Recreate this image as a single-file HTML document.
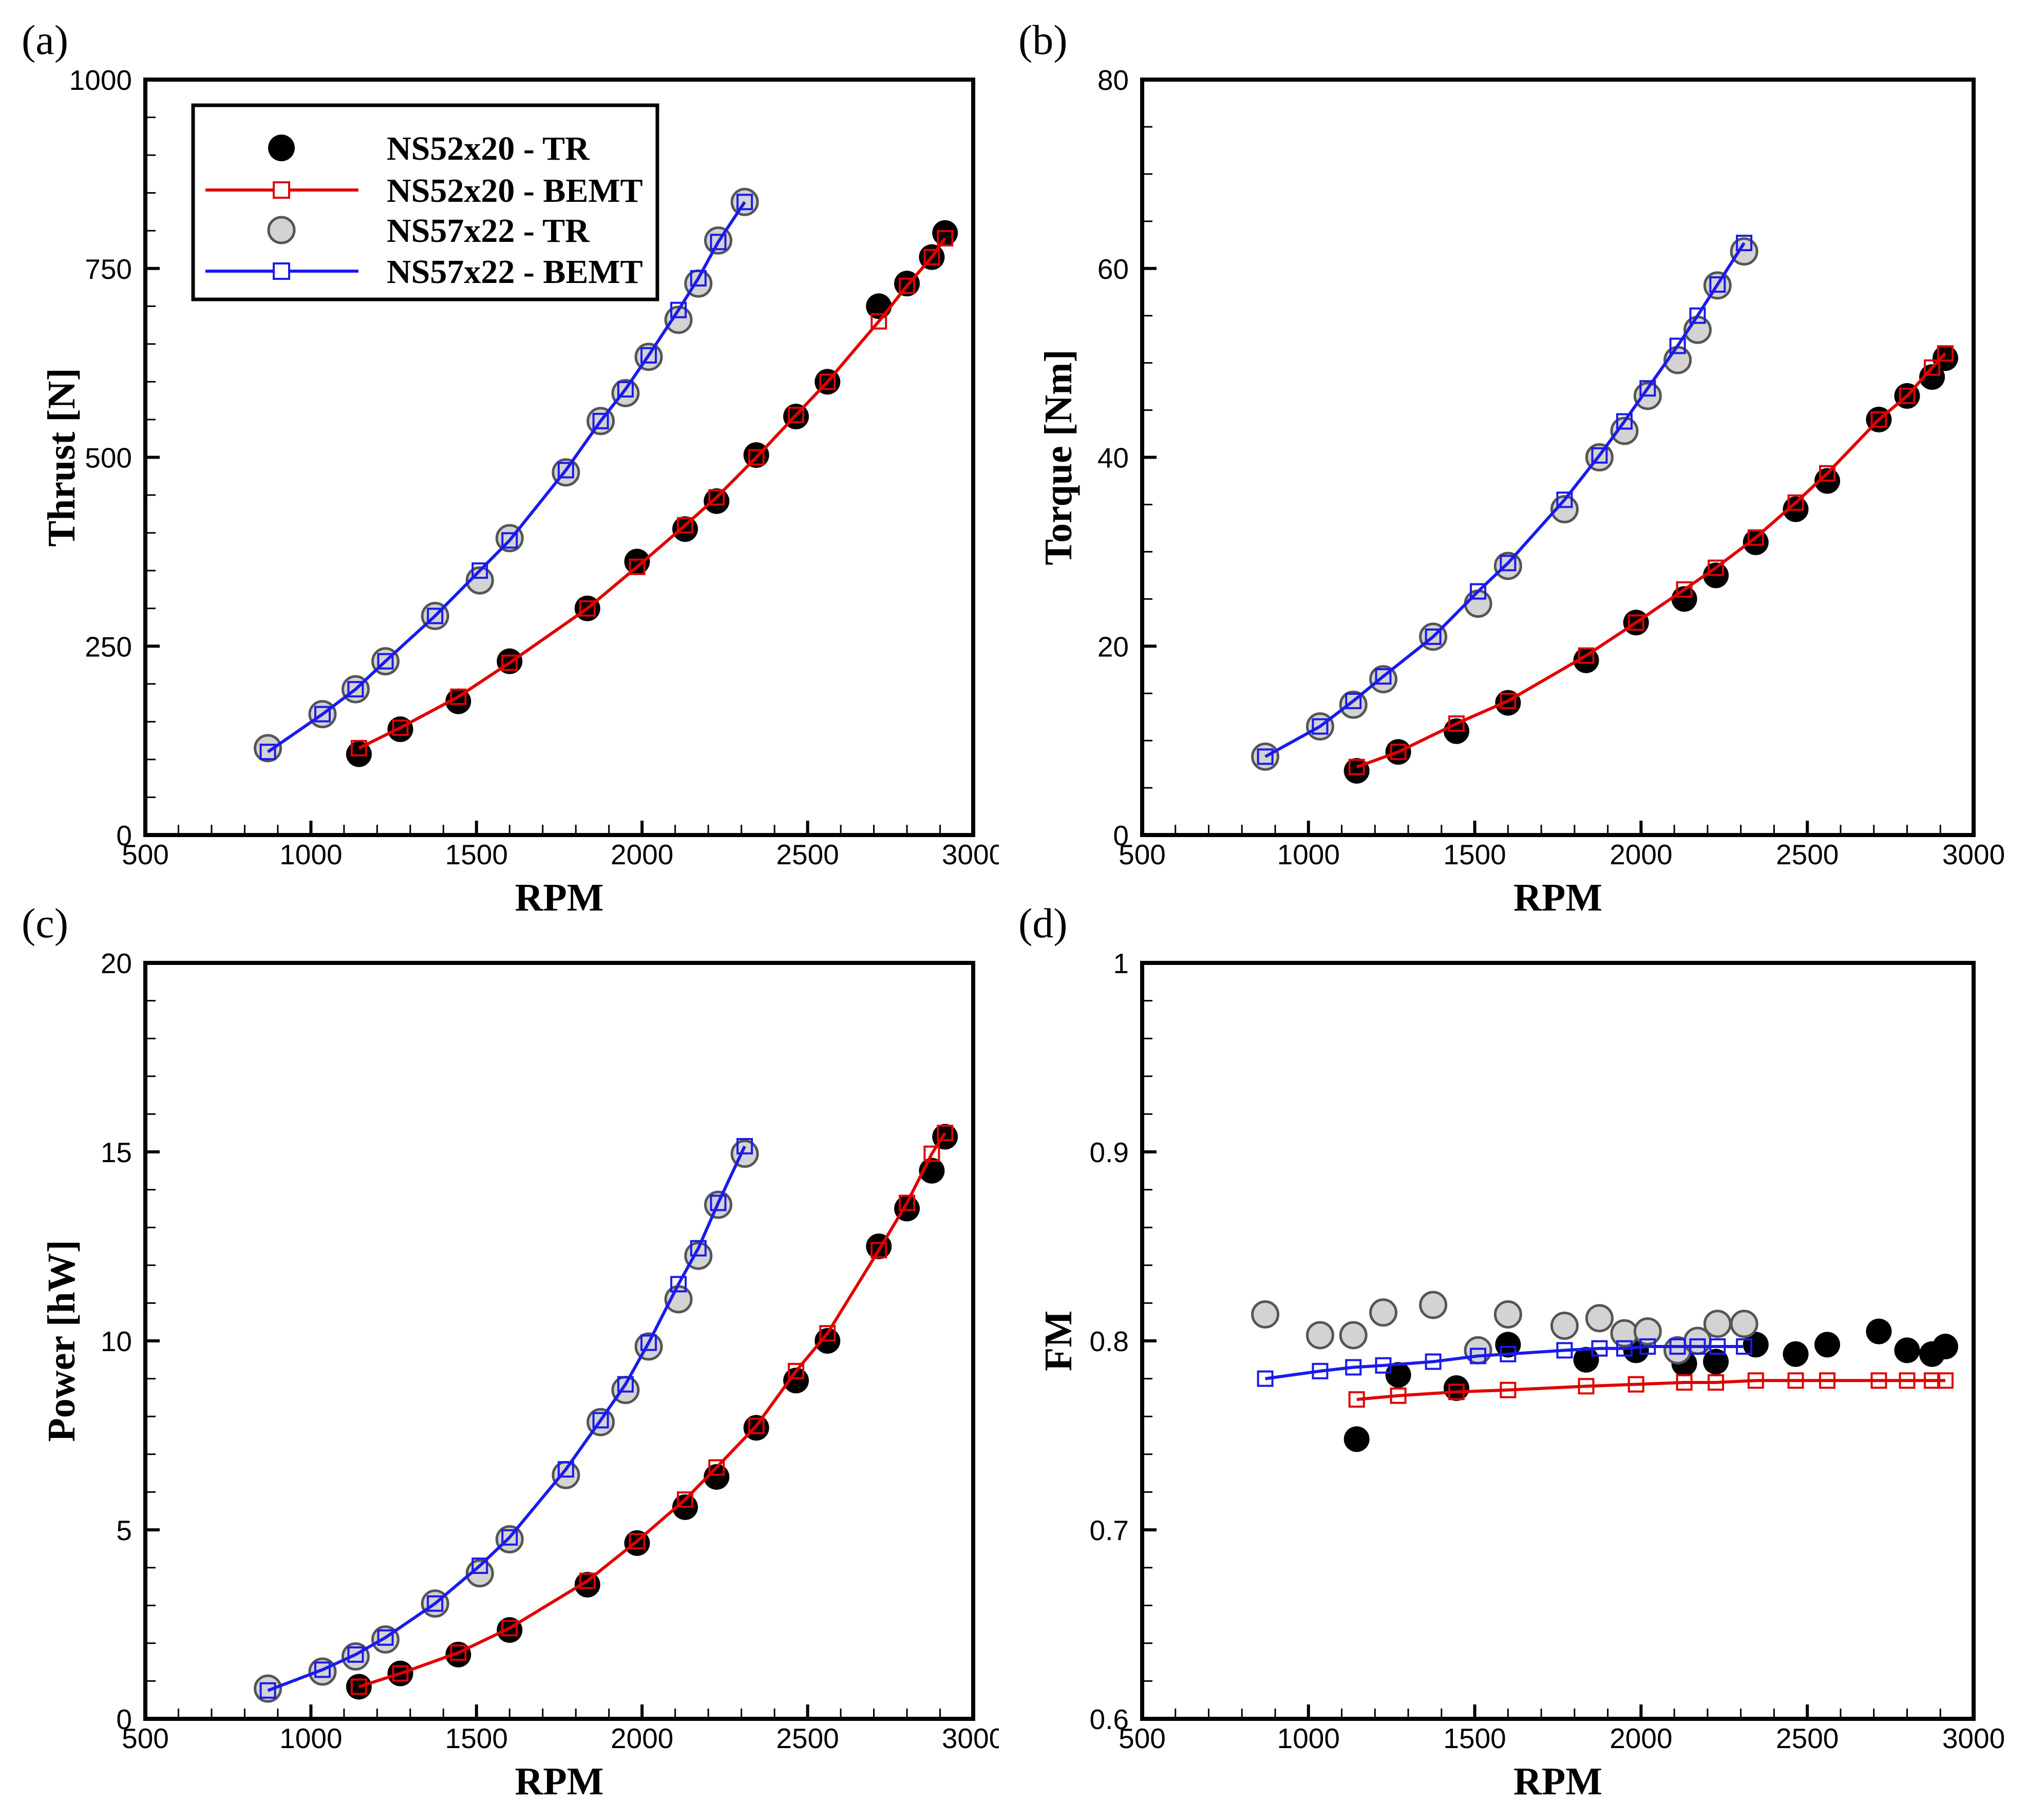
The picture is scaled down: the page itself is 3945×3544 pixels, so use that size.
<!DOCTYPE html>
<html><head><meta charset="utf-8"><style>
html,body{margin:0;padding:0;background:#fff;}
svg{display:block;}
.tick{font-family:"Liberation Sans",Arial,sans-serif;font-size:55px;fill:#000;}
.ttl{font-family:"Liberation Serif","Times New Roman",serif;font-weight:bold;font-size:76px;fill:#000;}
.plab{font-family:"Liberation Serif","Times New Roman",serif;font-size:82px;fill:#000;}
.leg{font-family:"Liberation Serif","Times New Roman",serif;font-weight:bold;font-size:66px;fill:#000;}
</style></head><body>
<svg id="fig" xmlns="http://www.w3.org/2000/svg" width="3945" height="3544" viewBox="0 0 3945 3544"></svg>
<script>
// ---- data ----
const rpm52 = [1145,1270,1445,1600,1835,1985,2130,2225,2345,2465,2560,2715,2800,2875,2915];
const rpm57 = [870,1035,1135,1225,1375,1510,1600,1770,1875,1950,2020,2110,2170,2230,2310];
const thrust52TR = [107,140,177,230,300,362,405,442,503,554,600,700,730,765,797];
const thrust52BEMT = [115,142,183,228,300,355,410,447,500,556,600,680,727,765,790];
const thrust57TR = [115,160,193,230,290,337,393,480,548,585,633,682,730,787,838];
const thrust57BEMT = [110,160,193,230,290,350,390,483,548,590,635,695,737,785,838];
const torque52TR = [6.8,8.8,11,14,18.5,22.5,25,27.5,31,34.5,37.5,44,46.5,48.5,50.5];
const torque52BEMT = [7.2,8.8,11.8,14.2,19,22.5,26,28.3,31.5,35.2,38.3,44,46.5,49.5,51];
const torque57TR = [8.3,11.5,13.8,16.5,21,24.5,28.5,34.5,40,42.8,46.5,50.3,53.5,58.2,61.8];
const torque57BEMT = [8.3,11.5,14.2,16.8,21,25.8,28.8,35.5,40.2,43.8,47.3,51.8,55,58.3,62.7];
const power52TR = [0.85,1.2,1.7,2.35,3.55,4.65,5.6,6.4,7.7,8.95,10,12.5,13.5,14.5,15.4];
const power52BEMT = [0.85,1.2,1.75,2.4,3.65,4.7,5.8,6.65,7.75,9.2,10.2,12.4,13.65,14.95,15.5];
const power57TR = [0.8,1.25,1.65,2.1,3.05,3.85,4.75,6.45,7.85,8.7,9.85,11.1,12.25,13.6,14.95];
const power57BEMT = [0.75,1.3,1.7,2.15,3.05,4.05,4.8,6.6,7.9,8.85,9.95,11.5,12.45,13.65,15.15];
const fm52TR = [0.748,0.782,0.775,0.798,0.790,0.795,0.788,0.789,0.798,0.793,0.798,0.805,0.795,0.793,0.797];
const fm52BEMT = [0.769,0.771,0.773,0.774,0.776,0.777,0.778,0.778,0.779,0.779,0.779,0.779,0.779,0.779,0.779];
const fm57TR = [0.814,0.803,0.803,0.815,0.819,0.795,0.814,0.808,0.812,0.804,0.805,0.795,0.800,0.809,0.809];
const fm57BEMT = [0.780,0.784,0.786,0.787,0.789,0.792,0.793,0.795,0.796,0.796,0.797,0.797,0.797,0.797,0.797];
const xTicks = [500,1000,1500,2000,2500,3000];
const thrustTicks = [0,250,500,750,1000];
const torqueTicks = [0,20,40,60,80];
const powerTicks = [0,5,10,15,20];
const fmTicks = [0.6,0.7,0.8,0.9,1];
const fmTickLabels = ["0.6","0.7","0.8","0.9","1"];
const legendLabels = ["NS52x20 - TR","NS52x20 - BEMT","NS57x22 - TR","NS57x22 - BEMT"];

const NS = "http://www.w3.org/2000/svg";
const fig = document.getElementById('fig');
function mk(tag, attrs, parent){
  const e = document.createElementNS(NS, tag);
  for (const k in attrs) e.setAttribute(k, attrs[k]);
  (parent||fig).appendChild(e);
  return e;
}

const panels = [
  {id:'a', x0:283, x1:1895, y0:155, y1:1626, ymin:0, ymax:1000, ticks:thrustTicks, labels:null, minor:50, title:'Thrust [N]', d:[thrust52TR,thrust52BEMT,thrust57TR,thrust57BEMT], clip:1945},
  {id:'b', x0:2224, x1:3843, y0:155, y1:1626, ymin:0, ymax:80, ticks:torqueTicks, labels:null, minor:5, title:'Torque [Nm]', d:[torque52TR,torque52BEMT,torque57TR,torque57BEMT], clip:null},
  {id:'c', x0:283, x1:1895, y0:1875, y1:3347, ymin:0, ymax:20, ticks:powerTicks, labels:null, minor:1, title:'Power [hW]', d:[power52TR,power52BEMT,power57TR,power57BEMT], clip:1945},
  {id:'d', x0:2224, x1:3843, y0:1875, y1:3347, ymin:0.6, ymax:1, ticks:fmTicks, labels:fmTickLabels, minor:0.02, title:'FM', d:[fm52TR,fm52BEMT,fm57TR,fm57BEMT], clip:null}
];

panels.forEach(p => {
  const g = mk('g', {});
  
  
  const xs = v => p.x0 + (v - 500) / 2500 * (p.x1 - p.x0);
  const ys = v => p.y1 - (v - p.ymin) / (p.ymax - p.ymin) * (p.y1 - p.y0);

  const pl = mk('text', {x: p.x0 - 241, y: p.y0 - 50, class:'plab'}, g);
  pl.textContent = '(' + p.id + ')';
  
  

  for (let v = 500; v <= 3000.001; v += 100) {
    const isMaj = Math.abs(v % 500) < 1e-6;
    mk('line', {x1:xs(v), x2:xs(v), y1:p.y1, y2:p.y1 - (isMaj ? 28 : 20), stroke:'#000', 'stroke-width': isMaj ? 6 : 3}, g);
  }
  const nMinor = Math.round((p.ymax - p.ymin) / p.minor);
  for (let i = 0; i <= nMinor; i++) {
    const v = p.ymin + i * p.minor;
    const isMaj = p.ticks.some(t => Math.abs(t - v) < 1e-6);
    mk('line', {x1:p.x0, x2:p.x0 + (isMaj ? 28 : 20), y1:ys(v), y2:ys(v), stroke:'#000', 'stroke-width': isMaj ? 6 : 3}, g);
  }
  const xlg = mk('g', {}, g);
  if (p.clip) {
    const cp = mk('clipPath', {id:'clip' + p.id}, g);
    mk('rect', {x:0, y:0, width:p.clip, height:3544}, cp);
    xlg.setAttribute('clip-path', 'url(#clip' + p.id + ')');
  }
  xTicks.forEach(v => {
    const t = mk('text', {x:xs(v), y:p.y1 + 57, 'text-anchor':'middle', class:'tick'}, xlg);
    t.textContent = v;
    
    
  });
  p.ticks.forEach((v, i) => {
    const t = mk('text', {x:p.x0 - 26, y:ys(v) + 20, 'text-anchor':'end', class:'tick'}, g);
    t.textContent = p.labels ? p.labels[i] : v;
    
    
  });
  const xt = mk('text', {x:(p.x0 + p.x1) / 2, y:p.y1 + 147, 'text-anchor':'middle', class:'ttl'}, g);
  xt.textContent = 'RPM';
  
  
  const cy = (p.y0 + p.y1) / 2;
  const px = p.x0 - 138;
  const yt = mk('text', {x:px, y:cy, 'text-anchor':'middle', class:'ttl', transform:'rotate(-90 ' + px + ' ' + cy + ')'}, g);
  yt.textContent = p.title;
  
  

  const drawCircles = (xv, yv, fill, stroke, name) => {
    xv.forEach((x, i) => {
      const c = mk('circle', {cx:xs(x), cy:ys(yv[i]), r:25, fill:fill, stroke:stroke, 'stroke-width': stroke === 'none' ? 0 : 5}, g);
      
      
    });
  };
  const drawLine = (xv, yv, col, name) => {
    const pts = xv.map((x, i) => xs(x) + ',' + ys(yv[i])).join(' ');
    const pl2 = mk('polyline', {points:pts, fill:'none', stroke:col, 'stroke-width':6, 'stroke-linejoin':'round'}, g);
    
    
    xv.forEach((x, i) => {
      const r = mk('rect', {x:xs(x) - 14, y:ys(yv[i]) - 14, width:28, height:28, fill:'none', stroke:col, 'stroke-width':4}, g);
      
      
    });
  };
  drawCircles(rpm52, p.d[0], '#000', 'none', 'ns52x20-tr-point');
  drawCircles(rpm57, p.d[2], '#d3d3d3', '#555', 'ns57x22-tr-point');
  drawLine(rpm52, p.d[1], '#e00000', 'ns52x20-bemt');
  drawLine(rpm57, p.d[3], '#1a1aee', 'ns57x22-bemt');

  const fr = mk('rect', {x:p.x0, y:p.y0, width:p.x1 - p.x0, height:p.y1 - p.y0, fill:'none', stroke:'#000', 'stroke-width':8}, g);
  
  
});

const lg = mk('g', {});


mk('rect', {x:376, y:205, width:904, height:378, fill:'#fff', stroke:'#000', 'stroke-width':7}, lg);
const legY = [288, 370, 448, 528];
legendLabels.forEach((lab, i) => {
  const y = legY[i];
  const e = mk('g', {}, lg);
  
  
  if (i === 0) mk('circle', {cx:548, cy:y, r:26, fill:'#000'}, e);
  if (i === 2) mk('circle', {cx:548, cy:y, r:25, fill:'#d3d3d3', stroke:'#555', 'stroke-width':5}, e);
  if (i === 1 || i === 3) {
    const col = i === 1 ? '#e00000' : '#1a1aee';
    mk('line', {x1:400, x2:698, y1:y, y2:y, stroke:col, 'stroke-width':6}, e);
    mk('rect', {x:533, y:y - 15, width:30, height:30, fill:'#fff', stroke:col, 'stroke-width':4}, e);
  }
  const t = mk('text', {x:753, y:y + 23, class:'leg'}, e);
  t.textContent = lab;
});
</script>
</body></html>
